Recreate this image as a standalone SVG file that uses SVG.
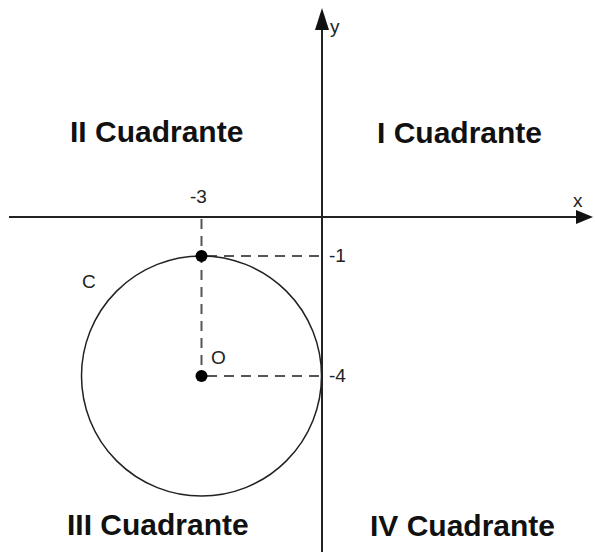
<svg xmlns="http://www.w3.org/2000/svg" width="595" height="552" viewBox="0 0 595 552">
<style>
.axis{stroke:#222;stroke-width:2;fill:none}
.dash{stroke:#555;stroke-width:2;stroke-dasharray:10,7;fill:none}
.circ{stroke:#222;stroke-width:1.5;fill:none}
.lbl{font-family:"Liberation Sans",Arial,sans-serif;font-size:19px;fill:#222}
.quad{font-family:"Liberation Sans",Arial,sans-serif;font-size:30px;font-weight:bold;fill:#111}
</style>
<rect width="595" height="552" fill="#fff"/>
<g id="connectors">
<line class="axis" x1="9" y1="217" x2="580" y2="217"/>
<polygon points="593,217 576,210 576,224" fill="#111"/>
<line class="axis" x1="322" y1="24" x2="322" y2="552"/>
<polygon points="322,8 315,30 329,30" fill="#111"/>
<line class="dash" x1="201.5" y1="219" x2="201.5" y2="376"/>
<line class="dash" x1="207" y1="256" x2="321" y2="256"/>
<line class="dash" x1="207" y1="376" x2="321" y2="376"/>
</g>
<g id="circle"><circle class="circ" cx="201.5" cy="376" r="120"/><text class="lbl" x="82" y="288">C</text></g>
<g id="pointA"><circle cx="201.5" cy="256" r="6" fill="#000"/></g>
<g id="pointO"><circle cx="201.5" cy="376" r="6" fill="#000"/><text class="lbl" x="211" y="364">O</text></g>
<g id="labels">
<text class="lbl" x="573" y="207">x</text>
<text class="lbl" x="330" y="33">y</text>
<text class="lbl" x="190" y="203">-3</text>
<text class="lbl" x="329" y="262">-1</text>
<text class="lbl" x="329" y="382">-4</text>
</g>
<g id="q1"><text class="quad" x="377" y="143">I Cuadrante</text></g>
<g id="q2"><text class="quad" x="70" y="142">II Cuadrante</text></g>
<g id="q3"><text class="quad" x="67" y="535">III Cuadrante</text></g>
<g id="q4"><text class="quad" x="370" y="536">IV Cuadrante</text></g>
</svg>
